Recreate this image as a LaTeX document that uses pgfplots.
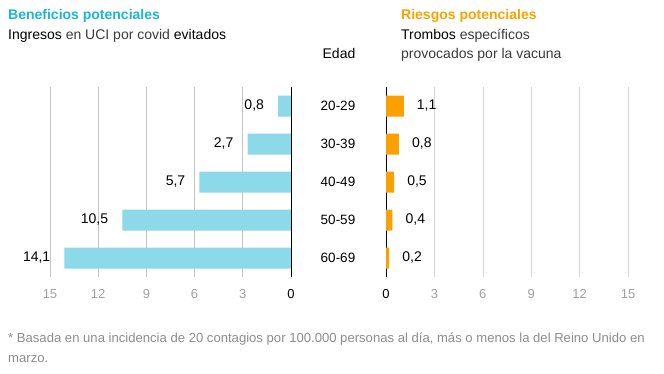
\documentclass[border=0pt]{standalone}
\usepackage{pgfplots}
\pgfplotsset{compat=1.18}
\usepackage{fontspec}
\setmainfont{Liberation Sans}
\definecolor{cyanT}{HTML}{1CB5D6}
\definecolor{orangeT}{HTML}{F7A400}
\definecolor{barB}{HTML}{8CD9EA}
\definecolor{barO}{HTML}{FAA000}
\definecolor{gridL}{HTML}{C4C4C4}
\definecolor{gridR}{HTML}{D6D6D6}
\definecolor{tickG}{HTML}{A0A0A0}
\definecolor{noteG}{HTML}{8C8C8C}
\definecolor{subG}{HTML}{3A3A3A}
\pgfplotsset{
  panel/.style={
    scale only axis, width=241pt, height=190pt,
    xbar, bar width=21pt,
    xmin=0, xmax=15,
    ymin=-0.5, ymax=4.5, y dir=reverse,
    axis line style={draw=none},
    xtick={3,6,9,12,15},
    extra x ticks={0},
    extra x tick style={grid style={black, line width=0.8pt}, xticklabel style={text=black}},
    xmajorgrids,
    major tick length=0pt,
    ytick=\empty,
    xticklabel style={text=tickG, font=\fontsize{13}{15}\selectfont, yshift=-9pt},
    /pgf/number format/assume math mode=true,
    nodes near coords,
    every node near coord/.append style={font=\fontsize{14}{16}\selectfont, text=black, inner sep=0pt,
      /pgf/number format/use comma, /pgf/number format/fixed, /pgf/number format/fixed zerofill, /pgf/number format/precision=1},
    clip=false,
  }
}
\begin{document}
\begin{tikzpicture}
\path[use as bounding box] (0pt,0pt) rectangle (664pt,-373pt);
% titles
\node[anchor=base west, inner sep=0pt, text=cyanT, font=\fontsize{14}{16}\selectfont\bfseries] at (8pt,-19pt) {Beneficios potenciales};
\node[anchor=base west, inner sep=0pt, text=subG, font=\fontsize{14}{16}\selectfont] at (8pt,-39pt) {\textcolor{black}{Ingresos} en UCI por covid \textcolor{black}{evitados}};
\node[anchor=base, inner sep=0pt, text=black, font=\fontsize{14}{16}\selectfont] at (339pt,-58pt) {Edad};
\node[anchor=base west, inner sep=0pt, text=orangeT, font=\fontsize{14}{16}\selectfont\bfseries] at (401pt,-19pt) {Riesgos potenciales};
\node[anchor=base west, inner sep=0pt, text=subG, font=\fontsize{14}{16}\selectfont] at (401pt,-39pt) {\textcolor{black}{Trombos} específicos};
\node[anchor=base west, inner sep=0pt, text=subG, font=\fontsize{14}{16}\selectfont] at (401pt,-58pt) {provocados por la vacuna};
% footnote
\node[anchor=base west, inner sep=0pt, text=noteG, font=\fontsize{13.1}{15}\selectfont] at (8pt,-342pt) {* Basada en una incidencia de 20 contagios por 100.000 personas al día, más o menos la del Reino Unido en};
\node[anchor=base west, inner sep=0pt, text=noteG, font=\fontsize{13.1}{15}\selectfont] at (8pt,-362pt) {marzo.};

% left panel
\begin{axis}[panel, at={(50pt,-87pt)}, anchor=north west, x dir=reverse,
  grid style={gridL, line width=0.6pt},
  every node near coord/.append style={anchor=east, xshift=-14pt}]
\addplot[draw=none, fill=barB] coordinates {(0.8,0) (2.7,1) (5.7,2) (10.5,3) (14.1,4)};
\end{axis}

% right panel
\begin{axis}[panel, at={(386pt,-87pt)}, anchor=north west, width=242pt,
  grid style={gridR, line width=0.6pt},
  ytick={0,1,2,3,4}, yticklabels={20-29,30-39,40-49,50-59,60-69},
  yticklabel style={anchor=center, xshift=-48pt, text=black, font=\fontsize{13.5}{16}\selectfont},
  every node near coord/.append style={anchor=west, xshift=13pt}]
\addplot[draw=none, fill=barO] coordinates {(1.1,0) (0.8,1) (0.5,2) (0.4,3) (0.2,4)};
\end{axis}
\end{tikzpicture}
\end{document}
